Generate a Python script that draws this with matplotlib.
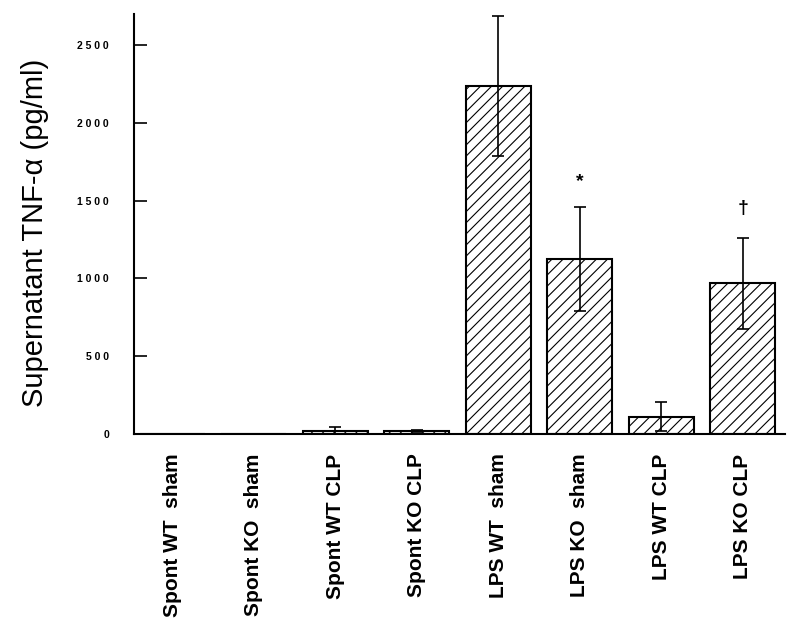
import matplotlib.pyplot as plt

gruppi = ["Spont WT  sham", "Spont KO  sham", "Spont WT CLP", "Spont KO CLP",
          "LPS WT  sham", "LPS KO  sham", "LPS WT CLP", "LPS KO CLP"]
tnf = [0, 0, 21, 20, 2235, 1125, 112, 968]
errori = [0, 0, 25, 8, 450, 335, 92, 290]
segni = ["", "", "", "", "", "*", "", "\u2020"]
pos_segni = [0, 0, 0, 0, 0, 1620, 0, 1450]

plt.rcParams['font.family'] = ['Liberation Sans', 'DejaVu Sans']
plt.rcParams['hatch.linewidth'] = 0.8

fig = plt.figure(figsize=(8, 6.31), dpi=100)
ax = fig.add_axes([0.1675, 0.312, 0.814, 0.666])

x = range(len(gruppi))
ax.bar(x, tnf, width=0.8, color="white", edgecolor="black", linewidth=1.5, hatch="///")
ax.errorbar(x, tnf, yerr=errori, fmt="none", ecolor="black", elinewidth=1.2,
            capsize=4, capthick=1.2)

for i in x:
    if segni[i]:
        ax.text(i, pos_segni[i], segni[i], ha="center", va="center", fontsize=14,
                fontweight="bold")

ax.set_xlim(-0.47, 7.52)
ax.set_ylim(0, 2700)
ax.set_yticks([0, 500, 1000, 1500, 2000, 2500])
ax.set_yticklabels(["0", "5 0 0", "1 0 0 0", "1 5 0 0", "2 0 0 0", "2 5 0 0"],
                   fontsize=7.5, fontweight="bold")
ax.tick_params(axis="y", direction="in", length=9, width=1.2, pad=18)
ax.set_xticks(list(x))
ax.set_xticklabels(gruppi, rotation=90, fontsize=15, fontweight="bold", va="top")
ax.tick_params(axis="x", length=0, pad=14)

ax.spines["top"].set_visible(False)
ax.spines["right"].set_visible(False)
ax.spines["left"].set_linewidth(1.5)
ax.spines["bottom"].set_linewidth(1.5)

ax.set_ylabel("Supernatant TNF-\u03b1 (pg/ml)", fontsize=21)
ax.yaxis.set_label_coords(-0.13, 0.48)

plt.savefig("out.png")
